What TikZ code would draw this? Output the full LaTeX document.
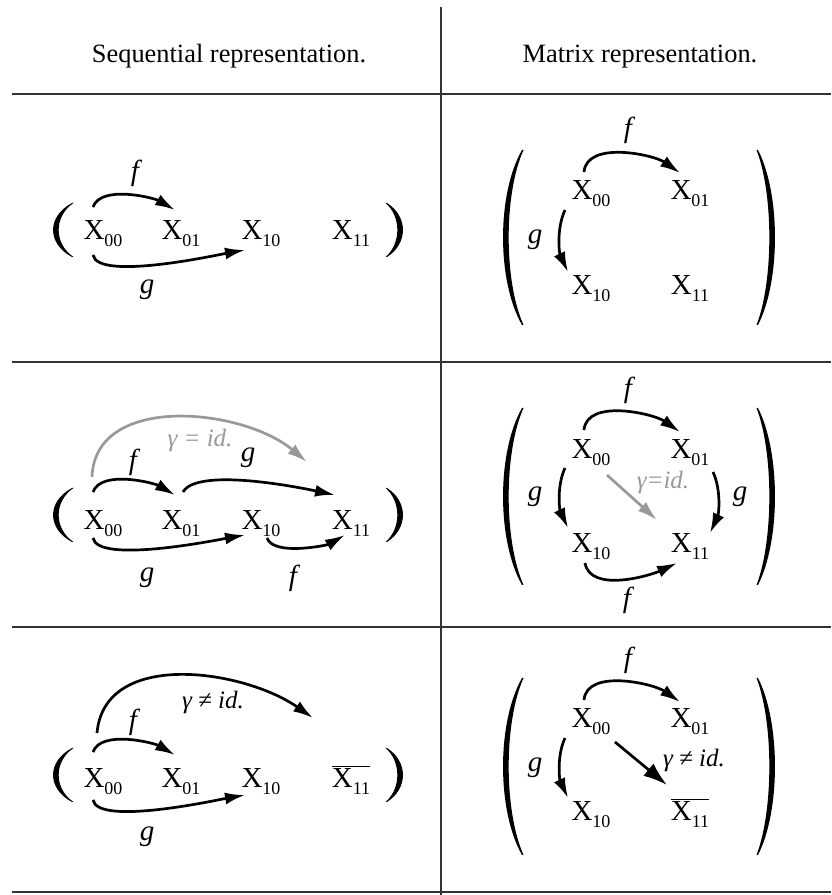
\documentclass[tikz,border=0pt]{standalone}
\usepackage{fontspec}
\setmainfont{Liberation Serif}[ItalicFont={Liberation Serif Italic}]
\usetikzlibrary{arrows.meta}

\newcommand{\dgfont}{\fontsize{14.5}{17}\selectfont}
\newcommand{\hdfont}{\fontsize{13.2}{15}\selectfont}
\newcommand{\subidx}[1]{\raisebox{-3.2pt}{\fontsize{9}{10}\selectfont #1}}
\newcommand{\Xs}[1]{X\subidx{#1}}
% big round brackets: tips x, top y, bottom y, depth
\newcommand{\parL}[4]{%
  \fill ({#1},{#2}) .. controls ({#1-1.33*#4},{#2-0.25*(#2-#3)}) and ({#1-1.33*#4},{#3+0.25*(#2-#3)}) .. ({#1},{#3})
    -- ({#1+1.5},{#3}) .. controls ({#1-1.33*#4+7},{#3+0.25*(#2-#3)}) and ({#1-1.33*#4+7},{#2-0.25*(#2-#3)}) .. ({#1+1.5},{#2}) -- cycle;}
\newcommand{\parR}[4]{%
  \fill ({#1},{#2}) .. controls ({#1+1.33*#4},{#2-0.25*(#2-#3)}) and ({#1+1.33*#4},{#3+0.25*(#2-#3)}) .. ({#1},{#3})
    -- ({#1-1.5},{#3}) .. controls ({#1+1.33*#4-7},{#3+0.25*(#2-#3)}) and ({#1+1.33*#4-7},{#2-0.25*(#2-#3)}) .. ({#1-1.5},{#2}) -- cycle;}

\tikzset{
  ent/.style={anchor=base, inner sep=1pt, font=\dgfont},
  lbl/.style={inner sep=1pt, font=\dgfont\itshape},
  idlbl/.style={inner sep=1pt, font=\fontsize{12.5}{14}\selectfont\itshape},
  arr/.style={line width=1.35pt, -{Latex[length=10pt,width=6pt]}},
  idarr/.style={arr, black!40},
  rule/.style={black!80, line width=1.1pt},
}

\begin{document}
\begin{tikzpicture}[x=0.5pt, y=0.5pt]
  \useasboundingbox (0,0) rectangle (831,895);

  % table
  \draw[rule, line width=1.4pt] (12,801) -- (831,801);
  \draw[rule] (12,533) -- (831,533);
  \draw[rule] (12,268) -- (831,268);
  \draw[rule] (12,3) -- (831,3);
  \draw[rule, line width=1pt] (441,888) -- (441,0);
  \node[font=\hdfont, anchor=base] (hseq) at (229,832) {Sequential representation.};
  \node[font=\hdfont, anchor=base] (hmat) at (640,832) {Matrix representation.};

  % row 1, sequential
  \parL{72}{692}{638}{19} \parR{387}{692}{638}{16}
  \node[ent] (s1a) at (103,655) {\Xs{00}};
  \node[ent] (s1b) at (181,655) {\Xs{01}};
  \node[ent] (s1c) at (261,655) {\Xs{10}};
  \node[ent] (s1d) at (351,655) {\Xs{11}};
  \draw[arr] ([shift={(-10,33)}]s1a.base) to[out=70,in=150,looseness=0.75] ([shift={(-6,30)}]s1b.base);
  \draw[arr] ([shift={(-10,-15)}]s1a.base) to[out=-80,in=190,looseness=0.45] ([shift={(-16,-10)}]s1c.base);
  \node[lbl] (s1f) at (135,722) {f};
  \node[lbl] (s1g) at (147,605) {g};

  % row 1, matrix
  \parL{522}{745}{570}{19} \parR{758}{745}{570}{17}
  \node[ent] (m1a) at (591,695) {\Xs{00}};
  \node[ent] (m1b) at (690,695) {\Xs{01}};
  \node[ent] (m1c) at (591,600) {\Xs{10}};
  \node[ent] (m1d) at (690,600) {\Xs{11}};
  \draw[arr] ([shift={(-7,28)}]m1a.base) to[out=85,in=145,looseness=0.85] ([shift={(-10,27)}]m1b.base);
  \draw[arr] ([shift={(-26,-10)}]m1a.base) to[out=245,in=115,looseness=0.85] ([shift={(-23,23)}]m1c.base);
  \node[lbl] (m1f) at (628,765) {f};
  \node[lbl] (m1g) at (535,655) {g};

  % row 2, sequential
  \parL{72}{407}{353}{19} \parR{387}{407}{353}{16}
  \node[ent] (s2a) at (103,365) {\Xs{00}};
  \node[ent] (s2b) at (181,365) {\Xs{01}};
  \node[ent] (s2c) at (261,365) {\Xs{10}};
  \node[ent] (s2d) at (351,365) {\Xs{11}};
  \draw[idarr] ([shift={(-11,53)}]s2a.base) to[out=88,in=140,looseness=1] ([shift={(-44,68)}]s2d.base);
  \draw[arr] ([shift={(-10,38)}]s2a.base) to[out=70,in=150,looseness=0.75] ([shift={(-6,35)}]s2b.base);
  \draw[arr] ([shift={(2,38)}]s2b.base) to[out=60,in=168,looseness=0.5] ([shift={(-16,35)}]s2d.base);
  \draw[arr] ([shift={(-10,-8)}]s2a.base) to[out=-80,in=190,looseness=0.45] ([shift={(-16,-5)}]s2c.base);
  \draw[arr] ([shift={(6,-8)}]s2c.base) to[out=-70,in=210,looseness=0.65] ([shift={(-6,-5)}]s2d.base);
  \node[idlbl, black!40] (s2id) at (200,455) {γ = id.};
  \node[lbl] (s2f) at (133,433) {f};
  \node[lbl] (s2g) at (248,437) {g};
  \node[lbl] (s2gb) at (147,317) {g};
  \node[lbl] (s2fb) at (293,317) {f};

  % row 2, matrix
  \parL{522}{487}{310}{19} \parR{758}{487}{310}{17}
  \node[ent] (m2a) at (591,436) {\Xs{00}};
  \node[ent] (m2b) at (690,436) {\Xs{01}};
  \node[ent] (m2c) at (591,342) {\Xs{10}};
  \node[ent] (m2d) at (690,342) {\Xs{11}};
  \draw[arr] ([shift={(-7,29)}]m2a.base) to[out=85,in=145,looseness=0.85] ([shift={(-10,27)}]m2b.base);
  \draw[arr] ([shift={(-26,-9)}]m2a.base) to[out=245,in=115,looseness=0.85] ([shift={(-23,25)}]m2c.base);
  \draw[arr] ([shift={(23,-13)}]m2b.base) to[out=-65,in=65,looseness=0.85] ([shift={(20,20)}]m2d.base);
  \draw[arr] ([shift={(-6,-10)}]m2c.base) to[out=-80,in=205,looseness=0.85] ([shift={(-13,-10)}]m2d.base);
  \draw[idarr] ([shift={(16,-16)}]m2a.base) -- ([shift={(-33,33)}]m2d.base);
  \node[idlbl, black!40] (m2id) at (663,413) {γ=id.};
  \node[lbl] (m2f) at (628,505) {f};
  \node[lbl] (m2gl) at (535,398) {g};
  \node[lbl] (m2gr) at (740,398) {g};
  \node[lbl] (m2fb) at (627,295) {f};

  % row 3, sequential
  \parL{72}{147}{93}{19} \parR{387}{147}{93}{16}
  \node[ent] (s3a) at (103,107) {\Xs{00}};
  \node[ent] (s3b) at (181,107) {\Xs{01}};
  \node[ent] (s3c) at (261,107) {\Xs{10}};
  \node[ent] (s3d) at (351,107) {$\overline{\hbox{\Xs{11}}}$};
  \draw[arr] ([shift={(-6,55)}]s3a.base) to[out=85,in=145,looseness=1] ([shift={(-38,70)}]s3d.base);
  \draw[arr] ([shift={(-10,36)}]s3a.base) to[out=70,in=150,looseness=0.75] ([shift={(-6,33)}]s3b.base);
  \draw[arr] ([shift={(-10,-12)}]s3a.base) to[out=-80,in=190,looseness=0.45] ([shift={(-16,-7)}]s3c.base);
  \node[idlbl] (s3ne) at (213,193) {γ ≠ id.};
  \node[lbl] (s3f) at (133,173) {f};
  \node[lbl] (s3g) at (147,58) {g};

  % row 3, matrix
  \parL{522}{217}{40}{19} \parR{758}{217}{40}{17}
  \node[ent] (m3a) at (591,167) {\Xs{00}};
  \node[ent] (m3b) at (690,167) {\Xs{01}};
  \node[ent] (m3c) at (591,74) {\Xs{10}};
  \node[ent] (m3d) at (690,74) {$\overline{\hbox{\Xs{11}}}$};
  \draw[arr] ([shift={(-7,28)}]m3a.base) to[out=85,in=145,looseness=0.85] ([shift={(-10,26)}]m3b.base);
  \draw[arr] ([shift={(-26,-10)}]m3a.base) to[out=245,in=115,looseness=0.85] ([shift={(-23,23)}]m3c.base);
  \draw[arr, -{Latex[length=12pt,width=8pt]}] ([shift={(24,-14)}]m3a.base) -- ([shift={(-23,36)}]m3d.base);
  \node[idlbl] (m3ne) at (694,135) {γ ≠ id.};
  \node[lbl] (m3f) at (628,235) {f};
  \node[lbl] (m3g) at (535,127) {g};
\end{tikzpicture}
\end{document}
